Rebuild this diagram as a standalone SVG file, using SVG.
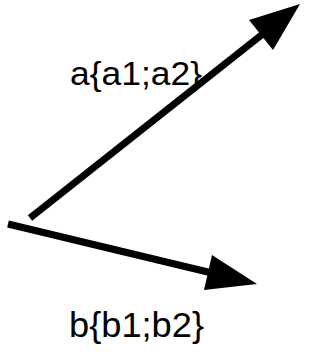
<svg xmlns="http://www.w3.org/2000/svg" width="330" height="364" viewBox="0 0 330 364">
<style>
.edge{stroke:#000;stroke-width:7;fill:none}
.head{fill:#000}
.lbl{font-family:"Liberation Sans",Arial,sans-serif;font-size:34px;fill:#000}
</style>
<rect width="330" height="364" fill="#fff"/>
<g id="connectors">
<g id="edge-a">
<line class="edge" x1="30" y1="218" x2="264" y2="33"/>
<polygon class="head" points="300,4 273,50 249,20"/>
</g>
<g id="edge-b">
<line class="edge" x1="8" y1="224" x2="212" y2="273"/>
<polygon class="head" points="257,284 204,290 212,255"/>
</g>
</g>
<g id="label-a"><text class="lbl" x="70" y="85" textLength="132" lengthAdjust="spacingAndGlyphs">a{a1;a2}</text></g>
<g id="label-b"><text class="lbl" x="69" y="337" textLength="135" lengthAdjust="spacingAndGlyphs" style="font-size:35px">b{b1;b2}</text></g>
</svg>
